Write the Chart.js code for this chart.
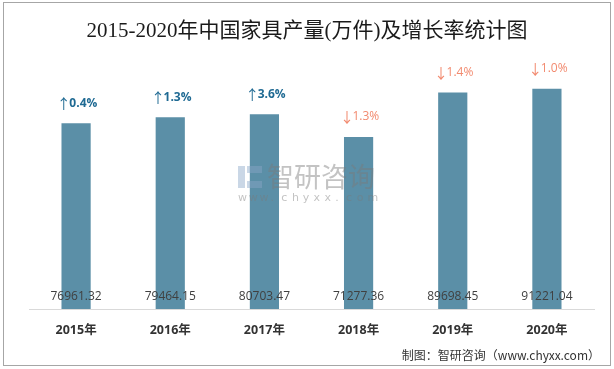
<!DOCTYPE html>
<html>
<head>
<meta charset="utf-8">
<script src="https://cdn.jsdelivr.net/npm/chart.js@4"></script>
<style>
  body { margin: 0; background: #fff; }
  #wrap { width: 614px; height: 369px; }
</style>
</head>
<body>
<div id="wrap"><canvas id="chart" width="614" height="369"></canvas></div>
<script>
// ---- data ----
const years = ["2015年", "2016年", "2017年", "2018年", "2019年", "2020年"];
const output = [76961.32, 79464.15, 80703.47, 71277.36, 89698.45, 91221.04];
const growth = ["0.4%", "1.3%", "3.6%", "1.3%", "1.4%", "1.0%"];
const growthUp = [true, true, true, false, false, false];

const titleText = "2015-2020年中国家具产量(万件)及增长率统计图";
const sourceText = "制图：智研咨询（www.chyxx.com）";

// ---- plugins ----
const decor = {
    id: "decor",
    beforeDraw(chart) {
        const ctx = chart.ctx;
        ctx.save();
        ctx.fillStyle = "#fff";
        ctx.fillRect(0, 0, chart.width, chart.height);
        ctx.restore();
    },
    afterDatasetsDraw(chart) {
        const ctx = chart.ctx;
        const meta = chart.getDatasetMeta(0);
        ctx.save();

        // watermark
        ctx.globalAlpha = 0.45;
        ctx.fillStyle = "#8aa6c8";
        ctx.fillRect(238, 166, 7, 22);
        ctx.fillRect(247, 166, 15, 7);
        ctx.fillRect(247, 181, 15, 7);
        ctx.fillStyle = "#7a7a7a";
        ctx.font = "27px 'Noto Sans CJK SC'";
        ctx.textAlign = "left";
        ctx.textBaseline = "middle";
        ctx.fillText("智研咨询", 267, 177);
        ctx.font = "11px 'DejaVu Sans'";
        const web = "www.chyxx.com";
        for (let k = 0; k < web.length; k++) {
            ctx.fillText(web[k], 238 + k * 10.8, 198);
        }
        ctx.globalAlpha = 1;

        // values inside bars, growth above
        meta.data.forEach((bar, i) => {
            ctx.textAlign = "center";
            ctx.textBaseline = "middle";
            ctx.fillStyle = "#404040";
            ctx.font = "12px 'Open Sans', 'DejaVu Sans'";
            ctx.fillText(output[i].toFixed(2), bar.x, 297);

            const up = growthUp[i];
            ctx.fillStyle = up ? "#1f6a93" : "#f28a6f";
            const f = (up ? "bold " : "") + "12px 'Open Sans', 'DejaVu Sans'";
            ctx.font = f;
            const w1 = ctx.measureText(growth[i]).width;
            ctx.font = "14px 'Noto Sans CJK SC'";
            const w0 = ctx.measureText("↑").width * 0.75;
            const x0 = bar.x + 2 - (w0 + w1) / 2;
            ctx.textAlign = "left";
            ctx.fillText(up ? "↑" : "↓", x0 - 2, bar.y - 20);
            ctx.font = f;
            ctx.fillText(growth[i], x0 + w0, bar.y - 20);
        });
        ctx.restore();
    },
    afterDraw(chart) {
        const ctx = chart.ctx;
        ctx.save();
        ctx.fillStyle = "#1a1a1a";
        ctx.textAlign = "center";
        ctx.textBaseline = "middle";
        ctx.font = "21px 'Liberation Serif', 'Noto Sans CJK SC'";
        ctx.fillText(titleText, 307, 31);

        ctx.fillStyle = "#333";
        ctx.textAlign = "right";
        ctx.font = "12px 'Noto Sans CJK SC'";
        ctx.fillText(sourceText, 600, 355);

        ctx.strokeStyle = "#a6a6a6";
        ctx.lineWidth = 1;
        ctx.strokeRect(3.5, 2.5, 607, 363);
        ctx.restore();
    }
};

new Chart(document.getElementById("chart"), {
    type: "bar",
    data: {
        labels: years,
        datasets: [{
            data: output,
            backgroundColor: "#5b8fa7",
            borderWidth: 0,
            barPercentage: 0.62,
            categoryPercentage: 0.5
        }]
    },
    options: {
        responsive: false,
        animation: false,
        layout: { padding: { left: 29, right: 20, top: 64, bottom: 17 } },
        plugins: { legend: { display: false }, tooltip: { enabled: false } },
        scales: {
            y: { display: false, min: 0, max: 101500 },
            x: {
                grid: { display: false, drawTicks: false },
                border: { display: true, color: "#d9d9d9", width: 1 },
                ticks: {
                    color: "#333",
                    padding: 14,
                    font: { size: 12.5, weight: "bold", family: "'Open Sans', 'Noto Sans CJK SC'" }
                }
            }
        }
    },
    plugins: [decor]
});
</script>
</body>
</html>
